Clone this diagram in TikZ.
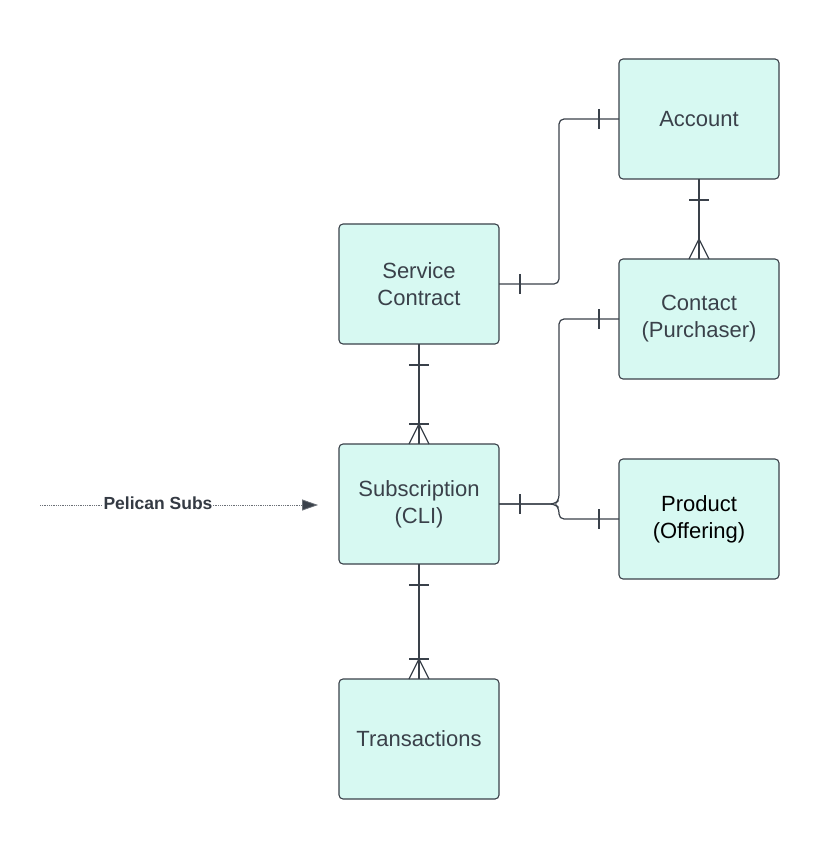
\documentclass[tikz,border=0pt]{standalone}
\usepackage{fontspec}
\setmainfont{Liberation Sans}
\usepackage{xcolor}
\usepackage{tikz}
\usetikzlibrary{calc}
\usetikzlibrary{arrows.meta}
\definecolor{boxfill}{HTML}{D7F9F2}
\definecolor{ink}{HTML}{3A414A}

\tikzset{
  entity/.style={draw=ink, fill=boxfill, line width=1.1pt, rounded corners=4pt,
    minimum width=160pt, minimum height=120pt, outer sep=0pt, align=center,
    text=ink, font=\fontsize{22}{27}\selectfont},
  rel/.style={draw=ink, line width=1.2pt},
}

\begin{document}
\begin{tikzpicture}[x=1pt,y=-1pt]
  \pgfmathsetmacro{\w}{10}
  \pgfmathsetmacro{\jx}{559}
  \useasboundingbox (0,0) rectangle (838,858);

  \node[entity] (acc) at (699,119) {Account};
  \node[entity] (con) at (699,319) {Contact\\(Purchaser)};
  \node[entity, text=black] (prod) at (699,519) {Product\\(Offering)};
  \node[entity] (svc) at (419,284) {Service\\Contract};
  \node[entity] (sub) at (419,504) {Subscription\\(CLI)};
  \node[entity] (txn) at (419,739) {Transactions};

  % elbow connectors
  \draw[rel, rounded corners=5pt] (svc.east) -- (\jx,284) -- (\jx,119) -- (acc.west);
  \draw[rel, rounded corners=5pt] (sub.east) -- (\jx-4,504) -- (\jx,500) -- (\jx,319) -- (con.west);
  \draw[rel, rounded corners=5pt] (sub.east) -- (\jx-4,504) -- (\jx,508) -- (\jx,519) -- (prod.west);
  \foreach \n in {svc, sub}{
    \draw[rel] ($(\n.east)+(21,-\w)$) -- ++(0,2*\w);
  }
  \foreach \n in {acc, con, prod}{
    \draw[rel] ($(\n.west)+(-20,-\w)$) -- ++(0,2*\w);
  }

  % vertical connectors
  \draw[rel] (acc.south) -- (con.north);
  \draw[rel] (svc.south) -- (sub.north);
  \draw[rel] (sub.south) -- (txn.north);
  \foreach \a in {acc.south, svc.south, sub.south}{
    \draw[rel] ($(\a)+(-\w,21)$) -- ++(2*\w,0);
  }
  \foreach \a in {sub.north, txn.north}{
    \draw[rel] ($(\a)+(-\w,-20)$) -- ++(2*\w,0);
  }
  \foreach \a in {con.north, sub.north, txn.north}{
    \draw[rel] ($(\a)+(-\w,0)$) -- ($(\a)+(0,-20)$) -- ($(\a)+(\w,0)$);
  }

  % incoming feed
  \coordinate (feed) at (40,505);
  \draw[ink!75, line width=0.8pt, densely dotted, -{Triangle[length=16pt,width=11pt,fill=ink]}]
    (feed) -- ($(sub.west)+(-21,1)$);
  \node[fill=white, inner sep=1pt, text=ink!90!black, font=\bfseries\fontsize{17.5}{20}\selectfont] (lbl) at (158,503) {Pelican Subs};
\end{tikzpicture}
\end{document}
